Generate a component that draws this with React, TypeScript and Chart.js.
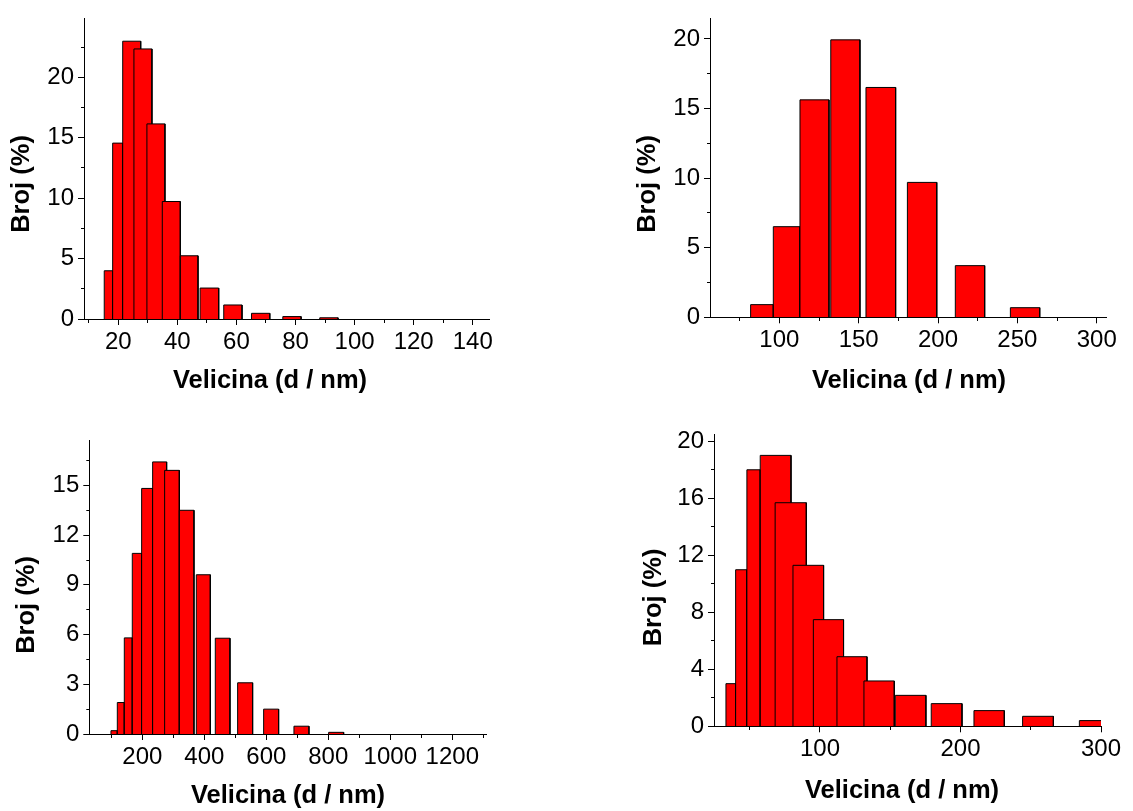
import React, { useEffect, useRef } from 'react';
import { Chart, registerables } from 'chart.js';

Chart.register(...registerables);

// ---------- Data: panel A (top left) ----------
const binStartA = [15.25, 18.1, 21.5, 25.3, 29.7, 34.9, 41.0, 47.7, 55.7, 65.1, 75.7, 88.2];
const binEndA = [18.1, 21.5, 27.6, 31.4, 35.8, 41.0, 47.0, 54.0, 61.9, 71.3, 81.9, 94.4];
const countA = [3.99, 14.55, 22.98, 22.34, 16.14, 9.72, 5.23, 2.56, 1.16, 0.47, 0.2, 0.1];
const xMajorA = [20, 40, 60, 80, 100, 120, 140];
const xMinorA = [10, 30, 50, 70, 90, 110, 130];
const yMajorA = [0, 5, 10, 15, 20];
const yMinorA = [2.5, 7.5, 12.5, 17.5, 22.5];

// ---------- Data: panel B (top right) ----------
const binStartB = [81.9, 96.2, 113.0, 132.4, 154.6, 180.7, 210.9, 245.6];
const binEndB = [96.2, 113.0, 131.3, 150.8, 173.3, 199.2, 229.4, 264.1];
const countB = [0.91, 6.51, 15.62, 19.93, 16.51, 9.69, 3.71, 0.69];
const xMajorB = [100, 150, 200, 250, 300];
const xMinorB = [75, 125, 175, 225, 275];
const yMajorB = [0, 5, 10, 15, 20];
const yMinorB = [2.5, 7.5, 12.5, 17.5];

// ---------- Data: panel C (bottom left) ----------
const binStartC = [98.9, 119.4, 141.9, 167.7, 197.8, 233.3, 272.0, 319.4, 374.2, 435.5, 507.5, 591.4, 689.2, 801.0];
const binEndC = [119.4, 141.9, 167.7, 197.8, 233.3, 278.5, 319.4, 366.7, 419.4, 482.8, 555.9, 639.8, 737.6, 849.5];
const countC = [0.2, 1.9, 5.8, 10.9, 14.82, 16.42, 15.91, 13.5, 9.61, 5.78, 3.09, 1.5, 0.47, 0.1];
const xMajorC = [200, 400, 600, 800, 1000, 1200];
const xMinorC = [100, 300, 500, 700, 900, 1100, 1300];
const yMajorC = [0, 3, 6, 9, 12, 15];
const yMinorC = [1.5, 4.5, 7.5, 10.5, 13.5, 16.5];

// ---------- Data: panel D (bottom right) ----------
const binStartD = [33.1, 40.0, 48.0, 57.5, 68.1, 80.8, 95.3, 112.1, 131.3, 153.6, 179.2, 209.6, 244.2, 284.6];
const binEndD = [40.0, 48.0, 57.5, 79.4, 90.3, 102.6, 116.8, 133.5, 152.9, 175.4, 201.1, 231.2, 266.1, 306.5];
const countD = [2.99, 10.98, 17.99, 19.0, 15.68, 11.29, 7.48, 4.88, 3.18, 2.17, 1.59, 1.1, 0.7, 0.4];
const xMajorD = [100, 200, 300];
const xMinorD = [50, 150, 250];
const yMajorD = [0, 4, 8, 12, 16, 20];
const yMinorD = [2, 6, 10, 14, 18];

const xTitle = 'Velicina (d / nm)';
const yTitle = 'Broj (%)';

const FONT = '"Liberation Sans", Arial, Helvetica, sans-serif';
const Y_SCALE_W = 60;
const X_SCALE_H = 45;
const TICK_LEN = 6;

type Panel = {
  canvas: { x: number; y: number; w: number; h: number };
  area: { left: number; right: number; top: number; bottom: number };
  xRange: [number, number];
  yMax: number;
  binStart: number[];
  binEnd: number[];
  counts: number[];
  xMajor: number[];
  xMinor: number[];
  yMajor: number[];
  yMinor: number[];
  xTitlePos: [number, number];
  yTitlePos: [number, number];
};

const panels: Panel[] = [
  {
    canvas: { x: 0, y: 0, w: 566, h: 405 },
    area: { left: 84, right: 489, top: 18, bottom: 319 },
    xRange: [8.4, 145.5],
    yMax: 24.9,
    binStart: binStartA, binEnd: binEndA, counts: countA,
    xMajor: xMajorA, xMinor: xMinorA, yMajor: yMajorA, yMinor: yMinorA,
    xTitlePos: [270, 381],
    yTitlePos: [22, 184],
  },
  {
    canvas: { x: 566, y: 0, w: 567, h: 405 },
    area: { left: 710, right: 1106.7, top: 18, bottom: 317.3 },
    xRange: [56.3, 306.3],
    yMax: 21.5,
    binStart: binStartB, binEnd: binEndB, counts: countB,
    xMajor: xMajorB, xMinor: xMinorB, yMajor: yMajorB, yMinor: yMinorB,
    xTitlePos: [909, 381],
    yTitlePos: [648, 184],
  },
  {
    canvas: { x: 0, y: 405, w: 566, h: 406 },
    area: { left: 89.3, right: 486.7, top: 440.7, bottom: 734 },
    xRange: [29, 1311],
    yMax: 17.7,
    binStart: binStartC, binEnd: binEndC, counts: countC,
    xMajor: xMajorC, xMinor: xMinorC, yMajor: yMajorC, yMinor: yMinorC,
    xTitlePos: [288, 796],
    yTitlePos: [27, 605],
  },
  {
    canvas: { x: 566, y: 405, w: 567, h: 406 },
    area: { left: 714, right: 1101, top: 434, bottom: 726.3 },
    xRange: [24.6, 300],
    yMax: 20.5,
    binStart: binStartD, binEnd: binEndD, counts: countD,
    xMajor: xMajorD, xMinor: xMinorD, yMajor: yMajorD, yMinor: yMinorD,
    xTitlePos: [902, 791],
    yTitlePos: [654, 597.5],
  },
];

const axisTitlesPlugin = {
  id: 'axisTitles',
  afterDraw(chart: any, _args: any, opts: any) {
    const ctx = chart.ctx;
    ctx.save();
    ctx.fillStyle = '#000';
    ctx.font = `bold 25.5px ${FONT}`;
    ctx.textAlign = 'center';
    ctx.textBaseline = 'middle';
    ctx.fillText(opts.xText, opts.xX, opts.xY);
    ctx.translate(opts.yX, opts.yY);
    ctx.rotate(-Math.PI / 2);
    ctx.fillText(opts.yText, 0, 0);
    ctx.restore();
  },
};

function makeChart(canvas: HTMLCanvasElement, p: Panel) {
  const datasets = p.binStart.map((start, i) => ({
    data: [
      { x: start, y: 0 },
      { x: start, y: p.counts[i] },
      { x: p.binEnd[i], y: p.counts[i] },
      { x: p.binEnd[i], y: 0 },
    ],
    backgroundColor: '#ff0000',
    borderColor: '#000000',
    borderWidth: 1,
    fill: 'origin',
    pointRadius: 0,
    pointHoverRadius: 0,
    tension: 0,
    order: -i,
  }));

  const c = p.canvas;
  const a = p.area;
  const isMinorX = (v: number) => p.xMinor.includes(v);
  const isMinorY = (v: number) => p.yMinor.includes(v);

  return new Chart(canvas, {
    type: 'line',
    data: { datasets },
    options: {
      animation: false,
      responsive: false,
      maintainAspectRatio: false,
      events: [],
      layout: {
        autoPadding: false,
        padding: {
          left: a.left - c.x - Y_SCALE_W,
          top: a.top - c.y,
          right: c.x + c.w - a.right,
          bottom: c.y + c.h - a.bottom - X_SCALE_H,
        },
      },
      plugins: {
        legend: { display: false },
        tooltip: { enabled: false },
        title: { display: false },
        axisTitles: {
          xText: xTitle,
          yText: yTitle,
          xX: p.xTitlePos[0] - c.x,
          xY: p.xTitlePos[1] - c.y,
          yX: p.yTitlePos[0] - c.x,
          yY: p.yTitlePos[1] - c.y,
        },
      } as any,
      scales: {
        x: {
          type: 'linear',
          position: 'bottom',
          min: p.xRange[0],
          max: p.xRange[1],
          afterBuildTicks: (s: any) => {
            s.ticks = [...p.xMajor, ...p.xMinor].sort((m, n) => m - n).map((v) => ({ value: v }));
          },
          afterFit: (s: any) => {
            s.height = X_SCALE_H;
            s.paddingLeft = 0;
            s.paddingRight = 0;
            s.paddingTop = 0;
            s.paddingBottom = 0;
          },
          ticks: {
            autoSkip: false,
            maxRotation: 0,
            minRotation: 0,
            padding: 3,
            color: '#000',
            font: { family: FONT, size: 24 },
            callback: (v: any) => (p.xMajor.includes(v) ? String(v) : ''),
          },
          grid: {
            display: true,
            drawOnChartArea: false,
            drawTicks: true,
            tickLength: TICK_LEN,
            tickColor: '#000',
            tickWidth: 1,
            tickBorderDash: (ctx: any) => (ctx.tick && isMinorX(ctx.tick.value) ? [3, 20] : []),
          },
          border: { display: true, color: '#000', width: 1 },
        },
        y: {
          type: 'linear',
          position: 'left',
          min: 0,
          max: p.yMax,
          afterBuildTicks: (s: any) => {
            s.ticks = [...p.yMajor, ...p.yMinor].sort((m, n) => m - n).map((v) => ({ value: v }));
          },
          afterFit: (s: any) => {
            s.width = Y_SCALE_W;
            s.paddingLeft = 0;
            s.paddingRight = 0;
            s.paddingTop = 0;
            s.paddingBottom = 0;
          },
          ticks: {
            autoSkip: false,
            padding: 4,
            color: '#000',
            font: { family: FONT, size: 24 },
            callback: (v: any) => (p.yMajor.includes(v) ? String(v) : ''),
          },
          grid: {
            display: true,
            drawOnChartArea: false,
            drawTicks: true,
            tickLength: TICK_LEN,
            tickColor: '#000',
            tickWidth: 1,
            tickBorderDash: (ctx: any) => (ctx.tick && isMinorY(ctx.tick.value) ? [0, 3, 20, 0] : []),
          },
          border: { display: true, color: '#000', width: 1 },
        },
      },
    } as any,
    plugins: [axisTitlesPlugin],
  });
}

export default function App() {
  const refs = [
    useRef<HTMLCanvasElement>(null),
    useRef<HTMLCanvasElement>(null),
    useRef<HTMLCanvasElement>(null),
    useRef<HTMLCanvasElement>(null),
  ];

  useEffect(() => {
    const charts = panels.map((p, i) => makeChart(refs[i].current as HTMLCanvasElement, p));
    return () => charts.forEach((ch) => ch.destroy());
  }, []);

  return (
    <div style={{ position: 'absolute', left: 0, top: 0, width: 1133, height: 811, background: '#fff' }}>
      {panels.map((p, i) => (
        <canvas
          key={i}
          ref={refs[i]}
          width={p.canvas.w}
          height={p.canvas.h}
          style={{
            position: 'absolute',
            left: p.canvas.x,
            top: p.canvas.y,
            width: p.canvas.w,
            height: p.canvas.h,
            display: 'block',
          }}
        />
      ))}
    </div>
  );
}
